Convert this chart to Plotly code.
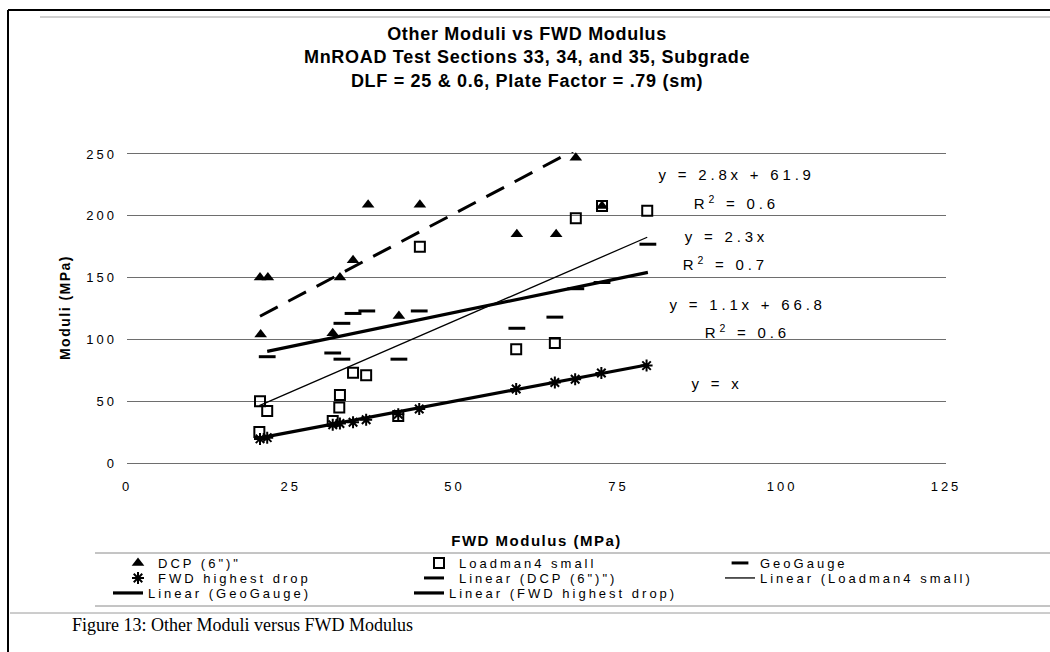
import plotly.graph_objects as go

# ---- data: FWD modulus (x) against moduli from the other devices (y), MPa ----
dcp_x = [20.3, 21.5, 20.4, 31.4, 32.5, 34.5, 36.8, 44.7, 41.5, 59.5, 65.5, 68.5, 72.5]
dcp_y = [150, 150, 104, 105, 150, 164, 209, 209, 119, 185, 185, 247, 208]

loadman_x = [20.2, 20.3, 21.4, 31.4, 32.4, 32.5, 34.5, 36.5, 41.4, 44.7, 59.4, 65.3, 68.5, 72.5, 79.4]
loadman_y = [25, 50, 42, 34, 45, 55, 73, 71, 38, 175, 92, 97, 198, 208, 204]

geo_x = [21.4, 31.4, 32.8, 32.8, 34.5, 36.6, 41.5, 44.6, 59.5, 65.3, 68.5, 72.5, 79.5]
geo_y = [86, 89, 84, 113, 121, 123, 84, 123, 109, 118, 141, 146, 177]

fwd_x = [20.3, 21.4, 31.4, 32.5, 34.5, 36.5, 41.4, 44.6, 59.4, 65.3, 68.4, 72.4, 79.3]
fwd_y = [19.5, 20.5, 31, 32, 33, 35, 39.5, 43.7, 59.9, 65.1, 67.7, 72.8, 78.8]

series_names = ['DCP (6")"', "Loadman4 small", "GeoGauge", "FWD highest drop"]

# linear trendlines y = slope * x + intercept
trend_slope = [2.8, 2.3, 1.1, 1.0]
trend_intercept = [61.9, 0.0, 66.8, 0.0]

eq_labels = ["y = 2.8x + 61.9", "R<sup>2</sup> = 0.6",
             "y = 2.3x", "R<sup>2</sup> = 0.7",
             "y = 1.1x + 66.8", "R<sup>2</sup> = 0.6",
             "y = x"]

x_ticks = [0, 25, 50, 75, 100, 125]
y_ticks = [0, 50, 100, 150, 200, 250]

# ---- figure geometry (pixels) ----
W, H = 1050, 652
ML, MR, MT, MB = 127, 104, 152, 189
PW, PH = W - ML - MR, H - MT - MB
FONT = "Liberation Sans, Arial, sans-serif"


def px_x(px):
    return (px - ML) / PW


def px_y(py):
    return (H - MB - py) / PH


fig = go.Figure()

xs = [dcp_x, loadman_x, geo_x, fwd_x]
ys = [dcp_y, loadman_y, geo_y, fwd_y]
marker_styles = [
    dict(symbol="triangle-up", size=11, color="black"),
    dict(symbol="square-open", size=10, color="black", line=dict(width=2, color="black")),
    dict(symbol="line-ew", size=12, color="black", line=dict(width=3, color="black")),
    dict(symbol="asterisk", size=10, color="black", line=dict(width=2, color="black")),
]
marker_legend = ["legend", "legend", "legend", "legend2"]

for name, x, y, mk, lg in zip(series_names, xs, ys, marker_styles, marker_legend):
    fig.add_trace(go.Scatter(x=x, y=y, mode="markers", name=name, marker=mk,
                             legend=lg, cliponaxis=False))

line_styles = [
    dict(color="black", width=3, dash="20px,12px"),
    dict(color="black", width=1.3),
    dict(color="black", width=3.2),
    dict(color="black", width=3.2),
]
line_legend = ["legend2", "legend2", "legend3", "legend3"]

for name, x, m, b, ls, lg in zip(series_names, xs, trend_slope, trend_intercept,
                                 line_styles, line_legend):
    x0, x1 = min(x), max(x)
    fig.add_trace(go.Scatter(x=[x0, x1], y=[m * x0 + b, m * x1 + b], mode="lines",
                             name=f"Linear ({name})", line=ls, legend=lg))

# trendline equations, placed right of the data
eq_pos = [(93.0, 233), (93.1, 211), (91.5, 183), (91.3, 161),
          (94.7, 128.6), (94.7, 106), (90.1, 64)]
annotations = []
for txt, (ax_, ay_) in zip(eq_labels, eq_pos):
    annotations.append(dict(x=ax_, y=ay_, xref="x", yref="y", text=txt, showarrow=False,
                            font=dict(family=FONT, size=15, color="black"),
                            xanchor="center", yanchor="middle"))

annotations.append(dict(x=px_x(70), y=px_y(625), xref="paper", yref="paper",
                        text="Figure 13: Other Moduli versus FWD Modulus", showarrow=False,
                        xanchor="left", yanchor="middle",
                        font=dict(family="Liberation Serif, Times New Roman, serif",
                                  size=18, color="black")))

# page frame and box rules
shapes = []


def hline(py, xa, xb, color, width):
    shapes.append(dict(type="line", xref="paper", yref="paper",
                       x0=px_x(xa), x1=px_x(xb), y0=px_y(py), y1=px_y(py),
                       line=dict(color=color, width=width)))


def vline(px, ya, yb, color, width):
    shapes.append(dict(type="line", xref="paper", yref="paper",
                       x0=px_x(px), x1=px_x(px), y0=px_y(ya), y1=px_y(yb),
                       line=dict(color=color, width=width)))


hline(10, 8, W, "black", 2)
vline(8, 10, H, "black", 2)
hline(17, 40, W, "#a0a0a0", 1)
hline(553, 95, W, "#8a8a8a", 1)
hline(606, 95, W, "#8a8a8a", 1)
hline(613, 10, W, "#9a9a9a", 1)

legend_common = dict(orientation="h", bgcolor="rgba(0,0,0,0)", borderwidth=0,
                     font=dict(family=FONT, size=13, color="black"),
                     entrywidth=256, entrywidthmode="pixels",
                     xanchor="left", yanchor="middle", traceorder="normal")

fig.update_layout(
    width=W, height=H, autosize=False,
    margin=dict(l=ML, r=MR, t=MT, b=MB),
    paper_bgcolor="white", plot_bgcolor="white",
    font=dict(family=FONT, color="black"),
    title=dict(text="Other Moduli vs FWD Modulus<br>MnROAD Test Sections 33, 34, and 35, Subgrade"
                    "<br>DLF = 25 & 0.6, Plate Factor = .79 (sm)",
               x=0.502, xref="container", xanchor="center",
               y=1 - 40 / H, yref="container", yanchor="top",
               font=dict(family=FONT, size=18, color="black", weight="bold")),
    xaxis=dict(range=[0, 125], tickvals=x_ticks, showgrid=False, zeroline=False,
               showline=False, ticks="", ticklabelstandoff=14,
               tickfont=dict(family=FONT, size=13, color="black"),
               title=dict(text="FWD Modulus (MPa)", standoff=42,
                          font=dict(family=FONT, size=15, color="black", weight="bold"))),
    yaxis=dict(range=[0, 251.6], tickvals=y_ticks, showgrid=True, gridcolor="#6e6e6e",
               gridwidth=1, zeroline=True, zerolinecolor="#6e6e6e", zerolinewidth=1,
               showline=False, ticks="", ticklabelstandoff=9,
               tickfont=dict(family=FONT, size=13, color="black"),
               title=dict(text="Moduli (MPa)", standoff=21,
                          font=dict(family=FONT, size=14, color="black", weight="bold"))),
    legend=dict(legend_common, x=px_x(118), y=px_y(563)),
    legend2=dict(legend_common, x=px_x(118), y=px_y(578)),
    legend3=dict(legend_common, x=px_x(108), y=px_y(593)),
    annotations=annotations,
    shapes=shapes,
    showlegend=True,
)

# widen the character spacing of the chart text
spacing_js = """
var gd = document.getElementById('{plot_id}');
function spreadText() {
  function apply(sel, v) {
    gd.querySelectorAll(sel).forEach(function (t) {
      if (t.style.letterSpacing !== v) { t.style.letterSpacing = v; }
    });
  }
  apply('.gtitle', '0.7px');
  apply('.xtick text, .ytick text', '3px');
  apply('.xtitle, .ytitle', '1.5px');
  apply('.legendtext, .legend2text, .legend3text', '3px');
  gd.querySelectorAll('.annotation-text').forEach(function (t) {
    var v = t.textContent.indexOf('Figure') === 0 ? '0px' : '3.8px';
    if (t.style.letterSpacing !== v) { t.style.letterSpacing = v; }
  });
}
spreadText();
gd.on('plotly_afterplot', spreadText);
new MutationObserver(spreadText).observe(gd, {childList: true, subtree: true});
[50, 200, 600].forEach(function (ms) { setTimeout(spreadText, ms); });
"""

fig.write_html("out.html", post_script=spacing_js, config={"displayModeBar": False})
